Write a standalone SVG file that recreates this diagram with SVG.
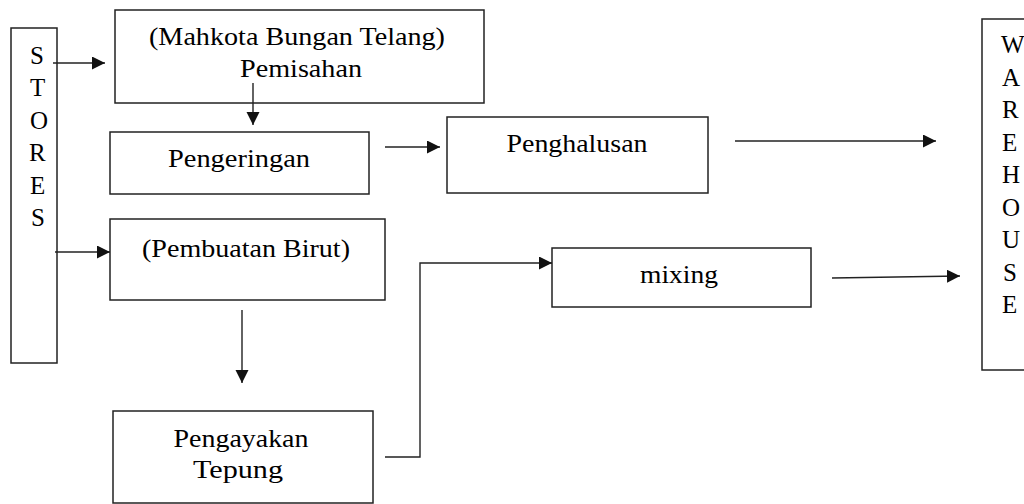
<svg xmlns="http://www.w3.org/2000/svg" width="1024" height="504" viewBox="0 0 1024 504">
  <style>
    .box { fill: #ffffff; stroke: #222222; stroke-width: 1.5; }
    .lbl { font-family: "Liberation Serif", "Times New Roman", "DejaVu Serif", serif; font-size: 25px; fill: #000000; text-anchor: middle; }
    .ltr { font-family: "Liberation Serif", "Times New Roman", "DejaVu Serif", serif; font-size: 25px; fill: #000000; text-anchor: start; }
    .conn { fill: none; stroke: #222222; stroke-width: 1.4; marker-end: url(#arrow); }
  </style>
  <defs>
    <marker id="arrow" markerUnits="userSpaceOnUse" markerWidth="14" markerHeight="14" refX="13" refY="6.5" orient="auto">
      <path d="M0,0 L13,6.5 L0,13 Z" fill="#111111"/>
    </marker>
  </defs>
  <rect x="0" y="0" width="1024" height="504" fill="#ffffff"/>

  <g id="stores">
    <rect class="box" x="11" y="28" width="46" height="335"/>
    <text class="ltr" x="30" y="64">S</text>
    <text class="ltr" x="30" y="96">T</text>
    <text class="ltr" x="30" y="129">O</text>
    <text class="ltr" x="29" y="161">R</text>
    <text class="ltr" x="30" y="194">E</text>
    <text class="ltr" x="31" y="226">S</text>
  </g>

  <g id="pemisahan">
    <rect class="box" x="115" y="10" width="369" height="93"/>
    <text class="lbl" x="297" y="45" textLength="296" lengthAdjust="spacingAndGlyphs">(Mahkota Bungan Telang)</text>
    <text class="lbl" x="301" y="77" textLength="122" lengthAdjust="spacingAndGlyphs">Pemisahan</text>
  </g>

  <g id="pengeringan">
    <rect class="box" x="110" y="132" width="259" height="62"/>
    <text class="lbl" x="239" y="167" textLength="142" lengthAdjust="spacingAndGlyphs">Pengeringan</text>
  </g>

  <g id="penghalusan">
    <rect class="box" x="447" y="117" width="261" height="76"/>
    <text class="lbl" x="577" y="152" textLength="141" lengthAdjust="spacingAndGlyphs">Penghalusan</text>
  </g>

  <g id="pembuatan-birut">
    <rect class="box" x="110" y="219" width="275" height="81"/>
    <text class="lbl" x="246" y="257" textLength="208" lengthAdjust="spacingAndGlyphs">(Pembuatan Birut)</text>
  </g>

  <g id="pengayakan-tepung">
    <rect class="box" x="113" y="411" width="260" height="92"/>
    <text class="lbl" x="241" y="447" textLength="135" lengthAdjust="spacingAndGlyphs">Pengayakan</text>
    <text class="lbl" x="238" y="478" textLength="90" lengthAdjust="spacingAndGlyphs">Tepung</text>
  </g>

  <g id="mixing">
    <rect class="box" x="552" y="248" width="259" height="59"/>
    <text class="lbl" x="679" y="283" textLength="78" lengthAdjust="spacingAndGlyphs">mixing</text>
  </g>

  <g id="warehouse">
    <rect class="box" x="982" y="19" width="60" height="351"/>
    <text class="ltr" x="1001" y="53">W</text>
    <text class="ltr" x="1002" y="86">A</text>
    <text class="ltr" x="1002" y="118">R</text>
    <text class="ltr" x="1002" y="151">E</text>
    <text class="ltr" x="1002" y="183">H</text>
    <text class="ltr" x="1002" y="216">O</text>
    <text class="ltr" x="1002" y="248">U</text>
    <text class="ltr" x="1003" y="281">S</text>
    <text class="ltr" x="1002" y="313">E</text>
  </g>

  <g id="connectors">
    <path class="conn" d="M53,63 L105,63"/>
    <path class="conn" d="M253,83 L253,125"/>
    <path class="conn" d="M55,252 L110,252"/>
    <path class="conn" d="M385,147 L440,147"/>
    <path class="conn" d="M735,141 L936,141"/>
    <path class="conn" d="M242,310 L242,383"/>
    <path class="conn" d="M385,457 L420,457 L420,263 L552,263"/>
    <path class="conn" d="M832,278 L960,276"/>
  </g>
</svg>
